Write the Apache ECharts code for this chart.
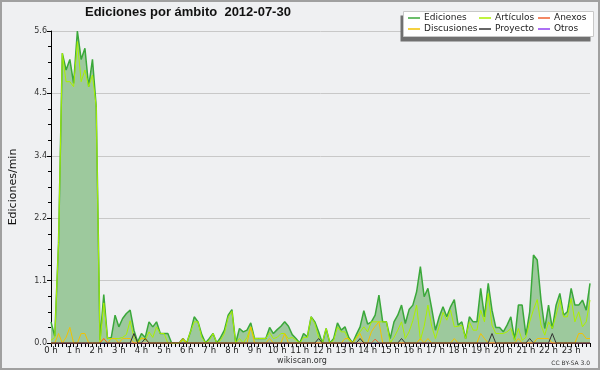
<!DOCTYPE html>
<html><head><meta charset="utf-8">
<script src="https://cdn.jsdelivr.net/npm/echarts@6/dist/echarts.min.js"></script>
<style>html,body{margin:0;padding:0;background:#eff0f2}#c{width:600px;height:370px}</style>
</head><body><div id="c"></div>
<script>
const hourLabels = ['0 h','1 h','2 h','3 h','4 h','5 h','6 h','7 h','8 h','9 h','10 h','11 h',
  '12 h','13 h','14 h','15 h','16 h','17 h','18 h','19 h','20 h','21 h','22 h','23 h'];
const yTicks = [0, 1.12, 2.24, 3.36, 4.48, 5.6];

// values every 10 minutes (edits/min), 144 slots
const ediciones = [
  0.38,0.12,1.8,5.2,4.9,5.09,4.66,5.6,5.09,5.29,4.6,5.09,
  4.24,0.05,0.87,0.08,0.1,0.5,0.29,0.44,0.53,0.59,0.23,0.02,
  0.17,0.1,0.38,0.29,0.38,0.17,0.17,0.17,0,0,0,0.08,
  0,0.2,0.47,0.38,0.15,0,0.08,0.17,0,0.1,0.23,0.5,
  0.6,0,0.26,0.2,0.23,0.36,0.08,0.08,0.08,0.08,0.28,0.17,
  0.24,0.3,0.38,0.3,0.15,0.08,0,0.17,0.11,0.47,0.38,0.2,
  0,0.26,0,0.08,0.36,0.23,0.29,0.1,0,0.15,0.29,0.58,
  0.34,0.38,0.5,0.86,0.38,0.38,0.08,0.38,0.5,0.68,0.35,0.6,
  0.68,0.92,1.37,0.83,0.98,0.62,0.23,0.47,0.65,0.47,0.65,0.78,
  0.32,0.38,0.08,0.47,0.38,0.38,0.98,0.47,1.07,0.59,0.28,0.28,
  0.2,0.32,0.47,0.05,0.68,0.68,0.14,0.56,1.58,1.49,0.77,0.26,
  0.68,0.26,0.68,0.89,0.5,0.56,0.98,0.68,0.68,0.77,0.59,1.07
];
const articulos = [
  0.05,0.1,1.8,5.2,4.69,4.69,4.6,5.41,4.69,4.9,4.6,4.81,
  4.24,0,0.72,0.08,0.08,0.08,0.08,0.1,0.15,0.4,0.1,0,
  0.1,0.05,0.2,0.1,0.29,0.17,0.17,0,0,0,0,0.05,
  0,0.2,0.38,0.38,0.1,0,0.05,0.17,0,0.05,0.17,0.46,
  0.57,0,0.08,0,0.1,0.29,0.08,0.08,0.08,0.08,0.19,0.08,
  0.1,0.17,0.17,0.08,0.1,0.05,0,0.1,0.1,0.47,0.35,0.1,
  0,0.26,0,0.05,0.29,0.2,0.2,0.05,0,0.1,0.2,0.29,
  0.2,0.38,0.38,0.38,0.38,0.38,0,0.1,0.23,0.38,0.08,0.2,
  0.4,0.68,0.05,0.3,0.68,0.3,0.08,0.3,0.55,0.41,0.59,0.29,
  0.3,0.32,0.08,0.38,0.23,0.23,0.59,0.38,0.89,0.32,0.17,0.17,
  0.17,0.2,0.26,0.05,0.26,0.05,0.1,0.38,0.6,0.78,0.32,0.14,
  0.38,0.26,0.5,0.78,0.47,0.47,0.8,0.38,0.56,0.29,0.38,0.77
];
const anexos = [
  0,0,0,0,0,0,0,0,0,0,0,0,
  0,0,0.08,0,0,0,0,0,0,0,0,0,
  0,0,0,0,0,0,0,0,0,0,0,0,
  0,0,0,0,0,0,0,0,0,0,0,0,
  0,0,0,0,0,0,0,0,0,0,0,0,
  0,0,0,0,0,0,0,0,0,0,0,0,
  0,0,0,0,0,0,0,0,0,0,0,0,
  0,0,0.07,0,0,0,0,0,0,0,0,0,
  0,0,0,0,0,0,0,0,0,0,0,0,
  0,0,0,0,0,0,0,0,0,0,0,0,
  0,0,0,0,0,0,0,0,0,0,0,0,
  0,0,0,0,0,0,0,0,0,0,0,0
];
const discusiones = [
  0,0,0.17,0,0.1,0.28,0,0,0.17,0.17,0,0,
  0,0,0.08,0,0.08,0.08,0,0.08,0.08,0.08,0,0,
  0.08,0.08,0,0,0,0,0,0,0,0,0,0.08,
  0,0,0,0,0,0,0,0,0,0,0,0,
  0,0,0,0,0,0.29,0,0,0,0,0.08,0,
  0,0,0.17,0,0,0,0,0,0,0,0,0,
  0,0,0,0,0,0,0.08,0.08,0,0.08,0.17,0,
  0,0.2,0.3,0.38,0,0,0,0,0,0,0,0,
  0,0,0.08,0,0.08,0,0,0,0,0,0,0.08,
  0,0,0,0,0,0,0.17,0.08,0,0,0,0,
  0,0,0,0,0.08,0,0,0,0,0.08,0.08,0.08,
  0.08,0,0,0,0,0,0,0,0.17,0.17,0.08,0.08
];
const proyecto = [
  0,0,0,0,0,0,0,0,0,0,0,0,
  0,0,0,0,0,0,0,0,0,0,0.17,0,
  0,0.08,0,0,0,0,0,0,0,0,0,0,
  0,0,0,0,0,0,0,0,0,0,0,0,
  0,0,0,0,0,0,0,0,0,0,0,0,
  0,0,0,0,0,0,0,0,0,0,0,0.08,
  0,0,0,0,0,0,0,0,0,0,0.08,0,
  0,0,0,0,0,0,0,0,0,0.08,0,0,
  0,0,0,0,0,0,0,0,0,0,0,0,
  0,0,0,0,0,0,0,0,0,0.17,0,0,
  0,0,0,0,0,0,0,0.08,0,0,0,0,
  0,0.17,0,0,0,0,0,0,0,0,0,0
];
const otros = [
  0,0,0,0,0,0,0,0,0,0,0,0,
  0,0,0,0,0,0,0,0,0,0,0,0,
  0,0,0,0,0,0,0,0,0,0,0,0,
  0,0,0,0,0,0,0,0,0,0,0,0,
  0,0,0,0,0,0,0,0,0,0,0,0,
  0,0,0,0,0,0,0,0,0,0,0,0,
  0,0,0,0,0,0,0,0,0,0,0,0,
  0,0,0,0,0,0,0,0,0,0,0,0,
  0,0,0,0,0,0,0,0,0,0,0,0,
  0,0,0,0,0,0,0,0,0,0,0,0,
  0,0,0,0,0,0,0,0,0,0,0,0,
  0,0,0,0,0,0,0,0,0,0,0,0
];

const slots = ediciones.map((_, i) => String(i));
const FONT = 'DejaVu Sans';

function line(name, data, color, width, z, area) {
  const s = {
    name, type: 'line', data, showSymbol: false, symbol: 'none', z,
    lineStyle: { color, width }, itemStyle: { color },
    emphasis: { disabled: true }
  };
  if (area) s.areaStyle = { color: area, opacity: 1 };
  return s;
}

const legendBase = {
  orient: 'vertical', top: 12.5, padding: 0, itemGap: 0,
  icon: 'rect', itemWidth: 12, itemHeight: 1.5,
  textStyle: { fontFamily: FONT, fontSize: 9, color: '#222', lineHeight: 11, padding: [0,0,0,-1] },
  selectedMode: false, z: 5
};

const chart = echarts.init(document.getElementById('c'), null, { renderer: 'canvas' });
chart.setOption({
  animation: false,
  backgroundColor: '#eff0f2',
  title: {
    text: 'Ediciones por ámbito  2012-07-30', left: 85, top: 6, padding: 0,
    textStyle: { fontFamily: 'Liberation Sans', fontWeight: 'bold', fontSize: 13, color: '#111' }
  },
  legend: [
    Object.assign({}, legendBase, { left: 408, data: ['Ediciones', 'Discusiones'] }),
    Object.assign({}, legendBase, { left: 479, data: ['Artículos', 'Proyecto'] }),
    Object.assign({}, legendBase, { left: 538, data: ['Anexos', 'Otros'] })
  ],
  grid: { left: 46, right: 10, top: 31, bottom: 27, containLabel: false },
  xAxis: {
    type: 'category', data: slots, boundaryGap: false,
    axisLine: { lineStyle: { color: '#000', width: 1 } },
    axisTick: { interval: 0, length: 4, lineStyle: { color: '#000' } },
    axisLabel: {
      interval: 5, margin: 3, fontFamily: FONT, fontSize: 8.5, color: '#222',
      formatter: (v, idx) => (idx % 6 === 0 ? hourLabels[idx / 6] : '')
    },
    splitLine: { show: false }
  },
  yAxis: {
    type: 'value', min: yTicks[0], max: yTicks[yTicks.length - 1], interval: yTicks[1],
    name: 'Ediciones/min', nameLocation: 'middle', nameRotate: 90, nameGap: 32,
    nameTextStyle: { fontFamily: FONT, fontSize: 11, color: '#111' },
    axisLine: { show: true, lineStyle: { color: '#000' } },
    axisTick: { show: true, length: 4, lineStyle: { color: '#000' } },
    minorTick: { show: true, splitNumber: 4, length: 3, lineStyle: { color: '#000' } },
    axisLabel: { margin: 4, fontFamily: FONT, fontSize: 8, color: '#333', formatter: v => v.toFixed(1) },
    splitLine: { show: true, lineStyle: { color: '#c8c8c8', width: 1 } }
  },
  series: [
    line('Otros', otros, '#9040f0', 1, 1),
    line('Ediciones', ediciones, '#3aa83a', 1.5, 2, '#9dc99d'),
    line('Artículos', articulos, '#aaf000', 1, 3),
    line('Discusiones', discusiones, '#f2c200', 1, 4),
    line('Anexos', anexos, '#f06030', 1, 5),
    line('Proyecto', proyecto, '#333333', 1, 6)
  ],
  graphic: [
    { type: 'rect', z: 3, shape: { x: 400.5, y: 15.5, width: 190, height: 26 }, style: { fill: '#707070' } },
    { type: 'rect', z: 3, shape: { x: 403.5, y: 11.5, width: 190, height: 25 }, style: { fill: '#ffffff', stroke: '#c8c8c8', lineWidth: 1 } },
    { type: 'text', z: 3, x: 302, y: 361, style: { text: 'wikiscan.org', fontFamily: FONT, fontSize: 8, fill: '#333', align: 'center', verticalAlign: 'middle' } },
    { type: 'text', z: 3, x: 590, y: 363, style: { text: 'CC BY-SA 3.0', fontFamily: FONT, fontSize: 6, fill: '#333', align: 'right', verticalAlign: 'middle' } },
    { type: 'rect', z: 10, shape: { x: 1, y: 1, width: 598, height: 368 }, style: { fill: 'none', stroke: '#a0a0a0', lineWidth: 2 } }
  ]
});
</script></body></html>
